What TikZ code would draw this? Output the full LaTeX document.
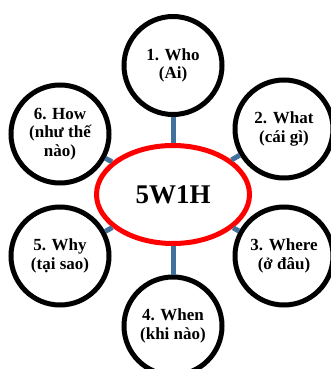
\documentclass[tikz,border=0pt]{standalone}
\usepackage{fontspec}
\setmainfont{Liberation Serif}
\usetikzlibrary{shapes.geometric}
\definecolor{connblue}{HTML}{41719C}
\begin{document}
\begin{tikzpicture}[x=1pt,y=-1pt,
  bubble/.style={circle,draw=black,line width=5pt,fill=white,minimum size=98pt,inner sep=0pt,
    font=\fontsize{17}{18.5}\selectfont\bfseries,align=center},
  hub/.style={ellipse,draw=red,line width=5pt,fill=white,minimum width=153pt,minimum height=98pt,inner sep=0pt,
    font=\fontsize{27}{30}\selectfont\bfseries},
  conn/.style={draw=connblue,line width=5pt}]
\useasboundingbox (0,0) rectangle (331,369);
\clip (0,0) rectangle (331,369);
\node[hub] (e) at (173,194.5) {5W1H};
\node[bubble] (n1) at (173,65.5) {1. Who\\(Ai)};
\node[bubble] (n2) at (284,129) {2. What\\(cái gì)};
\node[bubble] (n3) at (284,256) {3. Where\\(ở đâu)};
\node[bubble] (n4) at (173,326) {4. When\\(khi nào)};
\node[bubble] (n5) at (60,256) {5. Why\\(tại sao)};
\node[bubble] (n6) at (60,134) {6. How\\(như thế\\nào)};
\foreach \n in {n1,n2,n3,n4,n5,n6}{\draw[conn] (e) -- (\n);}
\end{tikzpicture}
\end{document}
